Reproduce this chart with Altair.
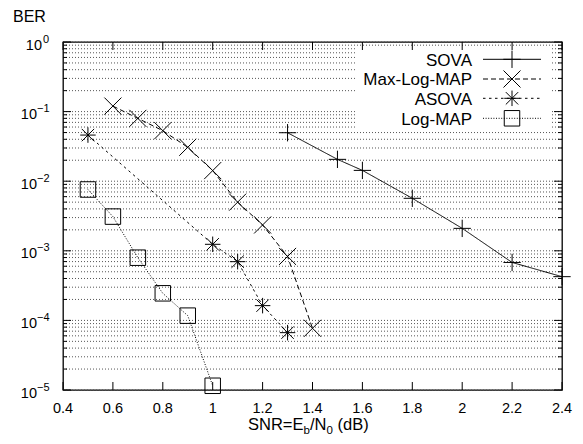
import altair as alt
import pandas as pd

# ---------------- data ----------------
series_names = ["SOVA", "Max-Log-MAP", "ASOVA", "Log-MAP"]

snr_sova = [1.3, 1.5, 1.6, 1.8, 2.0, 2.2, 2.4]
ber_sova = [0.0497, 0.0206, 0.0143, 0.00568, 0.0021, 0.00068, 0.000425]

snr_maxlog = [0.6, 0.7, 0.8, 0.9, 1.0, 1.1, 1.2, 1.3, 1.4]
ber_maxlog = [0.120, 0.080, 0.0532, 0.0307, 0.0142, 0.0050, 0.00235, 0.00083, 0.000077]

snr_asova = [0.5, 1.0, 1.1, 1.2, 1.3]
ber_asova = [0.046, 0.00124, 0.000698, 0.000163, 0.0000667]

snr_logmap = [0.5, 0.6, 0.7, 0.8, 0.9, 1.0]
ber_logmap = [0.0076, 0.0031, 0.000796, 0.000245, 0.000117, 0.0000115]

x_ticks = [0.4, 0.6, 0.8, 1.0, 1.2, 1.4, 1.6, 1.8, 2.0, 2.2, 2.4]
x_tick_labels = ["0.4", "0.6", "0.8", "1", "1.2", "1.4", "1.6", "1.8", "2", "2.2", "2.4"]

y_major = [1.0, 1e-1, 1e-2, 1e-3, 1e-4, 1e-5]
y_exponents = ["0", "\u22121", "\u22122", "\u22123", "\u22124", "\u22125"]
y_minor = [m * 10.0 ** k for k in range(-5, 0) for m in range(2, 10)]

y_title = "BER"

# ---------------- styling ----------------
W, H = 499, 348
FONT = "Liberation Sans"
xs = alt.Scale(domain=[0.4, 2.4], nice=False, zero=False)
ys = alt.Scale(type="log", domain=[1e-5, 1], nice=False)

dashes = {
    "SOVA": [1, 0],
    "Max-Log-MAP": [5, 3],
    "ASOVA": [2.5, 3.5],
    "Log-MAP": [1, 1.6],
}
shapes = {
    "SOVA": "M-1,0L1,0M0,-1L0,1",
    "Max-Log-MAP": "M-1,-1L1,1M-1,1L1,-1",
    "ASOVA": "M-1,0L1,0M0,-1L0,1M-0.8,-0.8L0.8,0.8M-0.8,0.8L0.8,-0.8",
    "Log-MAP": "M-1,-1L1,-1L1,1L-1,1Z",
}
sizes = {"SOVA": 300, "Max-Log-MAP": 290, "ASOVA": 240, "Log-MAP": 240}

series_data = {
    "SOVA": (snr_sova, ber_sova),
    "Max-Log-MAP": (snr_maxlog, ber_maxlog),
    "ASOVA": (snr_asova, ber_asova),
    "Log-MAP": (snr_logmap, ber_logmap),
}

layers = []

# grid (dotted horizontal lines at every log tick)
grid_df = pd.DataFrame({"v": y_major + y_minor})
layers.append(
    alt.Chart(grid_df).mark_rule(color="#555555", strokeWidth=1, strokeDash=[1, 2]).encode(
        y=alt.Y("v:Q", scale=ys, axis=None),
        x=alt.value(0), x2=alt.value(W),
    )
)

# legend background
one = pd.DataFrame({"t": [""]})
layers.append(
    alt.Chart(one).mark_rect(color="white").encode(
        x=alt.value(294), x2=alt.value(488), y=alt.value(6), y2=alt.value(86)
    )
)

# series lines and markers
for name in series_names:
    sx, sy = series_data[name]
    df = pd.DataFrame({"snr": sx, "ber": sy})
    base = alt.Chart(df).encode(
        x=alt.X("snr:Q", scale=xs, axis=None),
        y=alt.Y("ber:Q", scale=ys, axis=None),
    )
    layers.append(base.mark_line(color="black", strokeWidth=1, strokeDash=dashes[name]))
    layers.append(
        base.mark_point(shape=shapes[name], size=sizes[name], filled=False,
                        color="black", strokeWidth=1, opacity=1)
    )

# ticks (inward, gnuplot style)
xt_df = pd.DataFrame({"v": x_ticks})
for y0, y1 in [(H, H - 8), (0, 8)]:
    layers.append(
        alt.Chart(xt_df).mark_rule(color="black", strokeWidth=1).encode(
            x=alt.X("v:Q", scale=xs, axis=None), y=alt.value(y0), y2=alt.value(y1)
        )
    )
ymaj_df = pd.DataFrame({"v": y_major})
ymin_df = pd.DataFrame({"v": y_minor})
for d, L in [(ymaj_df, 8), (ymin_df, 4)]:
    for x0, x1 in [(0, L), (W - L, W)]:
        layers.append(
            alt.Chart(d).mark_rule(color="black", strokeWidth=1).encode(
                y=alt.Y("v:Q", scale=ys, axis=None), x=alt.value(x0), x2=alt.value(x1)
            )
        )

# x tick labels
xl_df = pd.DataFrame({"v": x_ticks, "lab": x_tick_labels})
layers.append(
    alt.Chart(xl_df).mark_text(font=FONT, fontSize=14.5, align="center", baseline="alphabetic",
                               color="black").encode(
        x=alt.X("v:Q", scale=xs, axis=None), y=alt.value(371), text="lab:N"
    )
)

# y tick labels: "10" with superscript exponent
yl_df = pd.DataFrame({"v": y_major, "e": y_exponents, "b": ["10"] * len(y_major)})
yl0 = yl_df[yl_df["e"] == "0"]
yln = yl_df[yl_df["e"] != "0"]
for d, xb, xe in [(yl0, -21, -20), (yln, -26, -26)]:
    layers.append(
        alt.Chart(d).mark_text(font=FONT, fontSize=14.5, align="right", baseline="alphabetic",
                               dy=7.5, color="black").encode(
            y=alt.Y("v:Q", scale=ys, axis=None), x=alt.value(xb), text="b:N"
        )
    )
    layers.append(
        alt.Chart(d).mark_text(font=FONT, fontSize=11, align="left", baseline="alphabetic",
                               dy=0.5, color="black").encode(
            y=alt.Y("v:Q", scale=ys, axis=None), x=alt.value(xe), text="e:N"
        )
    )

# y title
layers.append(
    alt.Chart(pd.DataFrame({"t": [y_title]})).mark_text(
        font=FONT, fontSize=16, align="left", baseline="alphabetic", color="black"
    ).encode(x=alt.value(-50), y=alt.value(-20.5), text="t:N")
)

# x title: SNR=E_b/N_0 (dB)
title_parts = [
    ("SNR=E", 185, 387.5, 16.5),
    ("b", 240.5, 391.5, 11.5),
    ("/N", 247, 387.5, 16.5),
    ("0", 263.5, 391.5, 11.5),
    ("(dB)", 274.5, 387.5, 16.5),
]
for txt, tx, ty, fs in title_parts:
    layers.append(
        alt.Chart(pd.DataFrame({"t": [txt]})).mark_text(
            font=FONT, fontSize=fs, align="left", baseline="alphabetic", color="black"
        ).encode(x=alt.value(tx), y=alt.value(ty), text="t:N")
    )

# legend
leg_rows = [17.3, 37, 56.3, 76.3]
for name, ry in zip(series_names, leg_rows):
    layers.append(
        alt.Chart(pd.DataFrame({"t": [name]})).mark_text(
            font=FONT, fontSize=17, align="right", baseline="alphabetic", color="black"
        ).encode(x=alt.value(409), y=alt.value(ry + 6.3), text="t:N")
    )
    layers.append(
        alt.Chart(pd.DataFrame({"t": [name]})).mark_rule(
            color="black", strokeWidth=1, strokeDash=dashes[name]
        ).encode(x=alt.value(420), x2=alt.value(478), y=alt.value(ry))
    )
    layers.append(
        alt.Chart(pd.DataFrame({"t": [name]})).mark_point(
            shape=shapes[name], size=sizes[name], filled=False, color="black",
            strokeWidth=1, opacity=1
        ).encode(x=alt.value(449), y=alt.value(ry))
    )

chart = alt.layer(*layers).properties(
    width=W,
    height=H,
    padding={"left": 55, "top": 34, "right": 13, "bottom": 46},
    autosize=alt.AutoSizeParams(type="none"),
).configure_view(stroke="black", strokeWidth=1.3)

chart.save("out.html", embed_options={"renderer": "svg", "actions": False})
